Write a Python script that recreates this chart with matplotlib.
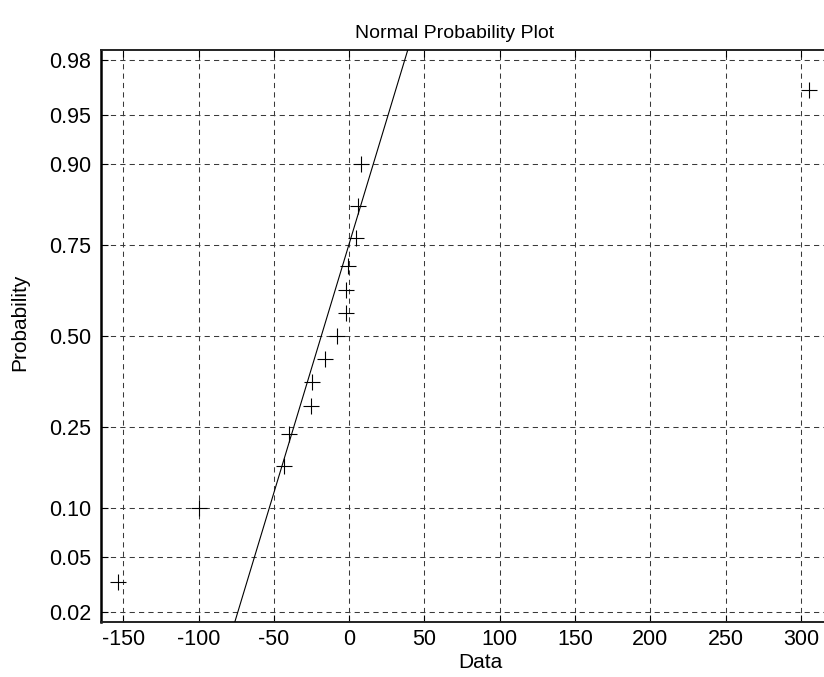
import matplotlib
matplotlib.use('Agg')
import matplotlib.pyplot as plt
import numpy as np
from statistics import NormalDist

plt.rcParams['font.family'] = ['Liberation Sans', 'DejaVu Sans']

# sample values (sorted)
data = [-153.3, -100.0, -43.4, -40.0, -25.6, -24.5, -15.7, -7.9,
        -2.4, -2.4, -0.9, 4.3, 5.8, 7.6, 305.5]
# reference line: x at the 25% and 75% probability levels
ref_probs = [0.25, 0.75]
ref_x = [-36.7, -0.3]
prob_ticks = [0.02, 0.05, 0.10, 0.25, 0.50, 0.75, 0.90, 0.95, 0.98]
prob_labels = ['0.02', '0.05', '0.10', '0.25', '0.50', '0.75', '0.90', '0.95', '0.98']
x_ticks = [-150, -100, -50, 0, 50, 100, 150, 200, 250, 300]

nd = NormalDist()
n = len(data)
x = np.sort(np.array(data))
z = np.array([nd.inv_cdf((i - 0.5) / n) for i in range(1, n + 1)])

W, H = 824, 677
fig = plt.figure(figsize=(W / 100, H / 100), dpi=100)

# axes limits, padded like normplot does
rng = x.max() - x.min()
xlim = (x.min() - 0.025 * rng, x.max() + 0.025 * rng)
zlim = nd.inv_cdf(0.25 / n)
ylim = (zlim, -zlim)

px_per_unit = 1.506
left, top, bottom = 101, 50, 622
ax_w = (xlim[1] - xlim[0]) * px_per_unit
ax = fig.add_axes([left / W, (H - bottom) / H, ax_w / W, (bottom - top) / H])

# reference line through the quartile points, extended over the y range
rz = [nd.inv_cdf(p) for p in ref_probs]
slope = (rz[1] - rz[0]) / (ref_x[1] - ref_x[0])
ly = np.array(ylim)
lx = ref_x[0] + (ly - rz[0]) / slope
ax.plot(lx, ly, color='black', lw=0.8, zorder=3)

ax.plot(x, z, '+', color='black', markersize=11, mew=0.8, zorder=4)

ax.set_xlim(xlim)
ax.set_ylim(ylim)
ax.set_xticks(x_ticks)
ax.set_xticklabels([str(t) for t in x_ticks])
ax.set_yticks([nd.inv_cdf(p) for p in prob_ticks])
ax.set_yticklabels(prob_labels)

ax.grid(True, color='#3a3a3a', linestyle=(0, (5, 4)), lw=0.75)
ax.tick_params(direction='in', length=5, width=0.8, labelsize=15.5,
               top=True, right=False, colors='black', pad=5)
ax.tick_params(axis='y', pad=7)
for s in ax.spines.values():
    s.set_linewidth(1.4)
    s.set_color('#222222')
ax.spines['left'].set_linewidth(1.8)
ax.spines['left'].set_color('black')
ax.spines['right'].set_visible(False)

fig.text(455 / W, 1 - 33 / H, 'Normal Probability Plot', ha='center', va='center', fontsize=14)
fig.text(480 / W, 1 - 663 / H, 'Data', ha='center', va='center', fontsize=15)
fig.text(20 / W, 1 - 322 / H, 'Probability', ha='center', va='center',
         rotation=90, fontsize=15)

fig.savefig('out.png', dpi=100)
